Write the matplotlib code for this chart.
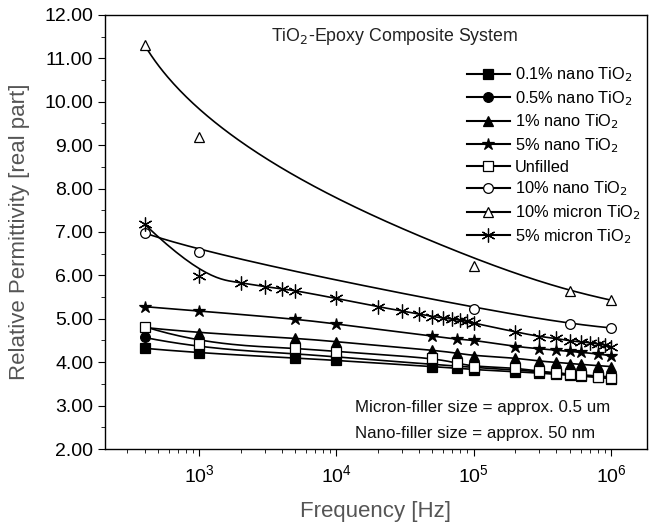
import numpy as np
import matplotlib
matplotlib.use("Agg")
import matplotlib.pyplot as plt

plt.rcParams['font.family'] = ['Liberation Sans', 'DejaVu Sans']

# frequencies (Hz)
f_nano = [400, 1e3, 5e3, 1e4, 5e4, 7.5e4, 1e5, 2e5, 3e5, 4e5, 5e5, 6e5, 8e5, 1e6]
f_micro5 = [400, 1e3, 2e3, 3e3, 4e3, 5e3, 1e4, 2e4, 3e4, 4e4, 5e4, 6e4, 7e4, 8e4, 9e4,
            1e5, 2e5, 3e5, 4e5, 5e5, 6e5, 7e5, 8e5, 9e5, 1e6]
f_sparse = [400, 1e3, 1e5, 5e5, 1e6]

nano01 = [4.32, 4.21, 4.10, 4.04, 3.90, 3.86, 3.83, 3.78, 3.75, 3.72, 3.70, 3.68, 3.65, 3.62]
nano05 = [4.57, 4.32, 4.20, 4.12, 3.95, 3.91, 3.88, 3.82, 3.78, 3.75, 3.73, 3.71, 3.68, 3.66]
nano1 = [4.80, 4.67, 4.56, 4.47, 4.28, 4.21, 4.15, 4.10, 4.02, 4.00, 3.97, 3.95, 3.92, 3.90]
nano5 = [5.28, 5.18, 5.00, 4.88, 4.60, 4.53, 4.51, 4.36, 4.31, 4.28, 4.25, 4.23, 4.19, 4.15]
unfilled = [4.82, 4.42, 4.33, 4.24, 4.10, 3.98, 3.90, 3.87, 3.79, 3.75, 3.72, 3.70, 3.67, 3.64]
nano10 = [6.98, 6.53, 5.23, 4.88, 4.79]
micron10 = [11.31, 9.19, 6.22, 5.64, 5.43]
micron5 = [7.18, 5.98, 5.83, 5.74, 5.69, 5.65, 5.47, 5.28, 5.18, 5.11, 5.05, 5.02, 4.99,
           4.97, 4.94, 4.90, 4.70, 4.59, 4.55, 4.49, 4.47, 4.45, 4.42, 4.40, 4.36]

series = [
    (f_nano, nano01, 's', 'k', '0.1% nano TiO$_2$'),
    (f_nano, nano05, 'o', 'k', '0.5% nano TiO$_2$'),
    (f_nano, nano1, '^', 'k', '1% nano TiO$_2$'),
    (f_nano, nano5, '*', 'k', '5% nano TiO$_2$'),
    (f_nano, unfilled, 's', 'w', 'Unfilled'),
    (f_sparse, nano10, 'o', 'w', '10% nano TiO$_2$'),
    (f_sparse, micron10, '^', 'w', '10% micron TiO$_2$'),
    (f_micro5, micron5, (6, 2, 0), 'k', '5% micron TiO$_2$'),
]


def bspline(px, py, k=3, num=300):
    # clamped B-spline using the data points as control points (Origin-style line)
    px = np.asarray(px, float)
    py = np.asarray(py, float)
    n = len(px)
    k = min(k, n - 1)
    t = np.concatenate([np.zeros(k), np.linspace(0, 1, n - k + 1), np.ones(k)])
    u = np.linspace(0, 1 - 1e-9, num)
    B = np.zeros((num, len(t) - 1))
    for i in range(len(t) - 1):
        B[:, i] = (u >= t[i]) & (u < t[i + 1])
    for d in range(1, k + 1):
        Bn = np.zeros((num, len(t) - 1 - d))
        for i in range(len(t) - 1 - d):
            a = t[i + d] - t[i]
            b = t[i + d + 1] - t[i + 1]
            left = (u - t[i]) / a * B[:, i] if a > 0 else 0
            right = (t[i + d + 1] - u) / b * B[:, i + 1] if b > 0 else 0
            Bn[:, i] = left + right
        B = Bn
    return B @ px, B @ py


fig = plt.figure(figsize=(6.49, 5.25), dpi=100)
ax = fig.add_axes([105 / 649, 1 - 449 / 525, 542 / 649, 434 / 525])

for f, v, m, fc, lab in series:
    sx, sy = bspline(np.log10(f), v)
    ax.plot(10 ** sx, sy, '-', color='k', lw=1.2)
    ms = 9 if m == '*' else (10 if isinstance(m, tuple) else 7)
    ax.plot(f, v, linestyle='none', marker=m, ms=ms, mfc=fc, mec='k', mew=0.9)
    ax.plot([], [], '-', marker=m, ms=ms, mfc=fc, mec='k', mew=0.9, color='k',
            lw=1.5, label=lab)

ax.set_xscale('log')
ax.set_xlim(206, 1.83e6)
ax.set_ylim(2, 12)
ax.set_yticks(np.arange(2, 12.01, 1))
ax.set_yticklabels(['%.2f' % t for t in np.arange(2, 12.01, 1)])
ax.set_yticks(np.arange(2.5, 12, 1), minor=True)
ax.set_xticks([1e3, 1e4, 1e5, 1e6])
ax.tick_params(axis='both', which='major', direction='out', length=5, labelsize=14)
ax.tick_params(axis='x', which='major', pad=6)
ax.tick_params(axis='both', which='minor', direction='out', length=3)
for s in ax.spines.values():
    s.set_linewidth(1.0)

ax.set_xlabel('Frequency [Hz]', fontsize=16, color='#555555', labelpad=11)
ax.set_ylabel('Relative Permittivity [real part]', fontsize=16, color='#555555', labelpad=10)

ax.text(0.535, 0.975, 'TiO$_2$-Epoxy Composite System', transform=ax.transAxes,
        ha='center', va='top', fontsize=12.8, color='#222222')
ax.text(0.462, 0.085, 'Micron-filler size = approx. 0.5 um', transform=ax.transAxes,
        fontsize=12.2, color='#111111')
ax.text(0.462, 0.025, 'Nano-filler size = approx. 50 nm', transform=ax.transAxes,
        fontsize=12.2, color='#111111')

leg = ax.legend(loc='upper right', bbox_to_anchor=(1.015, 0.918), frameon=False,
                fontsize=11.8, handlelength=2.6, labelspacing=0.3, handletextpad=0.3)

fig.savefig('out.png', dpi=100)
